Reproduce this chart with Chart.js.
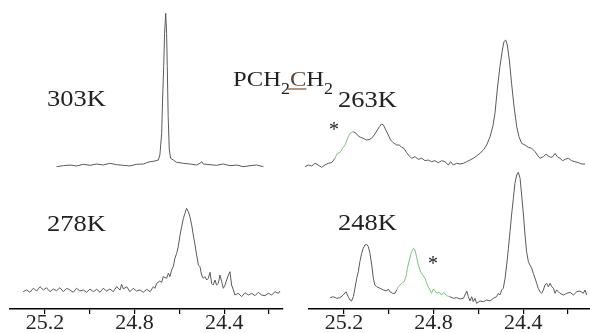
<!DOCTYPE html>
<html>
<head>
<meta charset="utf-8">
<script src="https://cdn.jsdelivr.net/npm/chart.js@4.4.0/dist/chart.umd.min.js"></script>
<style>
  html, body { margin: 0; padding: 0; background: #fff; }
  #wrap { position: relative; width: 590px; height: 333px; overflow: hidden; background: #fff; }
  #wrap canvas { position: absolute; left: 0; top: 0; }
</style>
</head>
<body>
<div id="wrap">
  <canvas id="c303" width="590" height="333"></canvas>
  <canvas id="c263" width="590" height="333"></canvas>
  <canvas id="c278" width="590" height="333"></canvas>
  <canvas id="c248" width="590" height="333"></canvas>
</div>
<script>
// eixo x (ppm), mesmo para todos
const tickValues = [25.2, 25.0, 24.8, 24.6, 24.4, 24.2];
const tickLabels = ['25.2', '', '24.8', '', '24.4', ''];

// rotulos de temperatura
const tempLabels = ['303K', '263K', '278K', '248K'];

// 303K
const ppm303 = [25.148,25.118,25.088,25.058,25.029,24.999,24.969,24.940,24.910,24.880,24.850,24.821,24.791,24.761,24.746,24.731,24.709,24.694,24.687,24.679,24.675,24.670,24.666,24.661,24.657,24.654,24.650,24.645,24.639,24.627,24.612,24.583,24.553,24.523,24.508,24.500,24.493,24.463,24.434,24.404,24.374,24.344,24.315,24.285,24.255,24.225];
const int303 = [3.3,4.3,5,4,5.7,4.7,6,5,6.7,5.3,4.7,4,5.7,6,7.3,8.3,9,10,15,36.7,70,103.3,136.7,156.7,136.7,103.3,53.3,20,11.7,10,7.7,6.7,6,5,6.7,8.3,6,5.3,4.7,6,4.3,5,3.3,4.3,5,3.3];

// 278K
const ppm278 = [25.297,25.282,25.267,25.252,25.237,25.222,25.207,25.193,25.178,25.163,25.148,25.133,25.118,25.103,25.088,25.074,25.059,25.044,25.029,25.014,24.999,24.984,24.969,24.954,24.940,24.925,24.910,24.895,24.880,24.865,24.858,24.850,24.835,24.821,24.806,24.791,24.776,24.761,24.746,24.731,24.716,24.709,24.701,24.687,24.679,24.672,24.657,24.649,24.642,24.635,24.627,24.620,24.612,24.605,24.597,24.590,24.582,24.575,24.568,24.560,24.553,24.545,24.538,24.530,24.523,24.515,24.508,24.501,24.493,24.486,24.478,24.471,24.463,24.456,24.449,24.441,24.434,24.426,24.419,24.411,24.404,24.396,24.389,24.381,24.374,24.367,24.359,24.352,24.337,24.322,24.307,24.292,24.277,24.263,24.248,24.233,24.218,24.203,24.188,24.173,24.158,24.151];
const int278 = [17.3,19,16.7,20.7,18,22.3,19,21.3,17.3,20,18.3,21.3,17.3,20.7,19,16.7,20.7,18,19,16.7,20,17.3,19.7,16.7,20.7,18,20,17.3,22.3,19,24.7,20,22.3,17.3,20.7,18,19,16.7,19.7,17.3,22.3,20.7,25.7,28,26.7,32.3,30.7,35.7,32.3,39,42.3,50.7,55.7,62.3,74,82.3,90.7,95.7,100.7,97.3,92.3,84,74,64,54,44,42.3,34,30.7,32.3,29,30.7,36.7,25.7,24,29,24,25.7,34,27.3,20.7,24,29,34,37.3,24,19,14,15.7,12.3,16.3,14,15.7,13.3,16.7,14,13.3,15.7,14,17.3,15.7,18];

// 263K
const ppm263 = [25.374,25.359,25.344,25.329,25.315,25.300,25.285,25.270,25.255,25.240,25.230,25.218,25.206,25.195,25.181,25.170,25.158,25.146,25.136,25.126,25.114,25.099,25.084,25.072,25.062,25.051,25.042,25.032,25.024,25.013,25.002,24.992,24.980,24.965,24.953,24.943,24.932,24.920,24.908,24.898,24.883,24.868,24.853,24.838,24.824,24.809,24.794,24.779,24.764,24.749,24.734,24.724,24.712,24.697,24.682,24.667,24.652,24.637,24.623,24.608,24.593,24.578,24.563,24.548,24.536,24.526,24.516,24.504,24.493,24.486,24.478,24.471,24.462,24.452,24.441,24.429,24.419,24.407,24.392,24.377,24.362,24.347,24.337,24.325,24.310,24.298,24.288,24.277,24.268,24.258,24.248,24.236,24.224,24.213,24.199,24.184,24.169,24.154,24.139,24.124];
const int263 = [3.3,5,4,6.7,5,2.7,5,6.7,7.3,11.7,16.7,17.3,21.7,25,33.3,37.3,38.3,36.7,34,32.7,31.7,30,30.7,32.7,36,40,43.3,46,45,40,35,30,27.3,25,25,22.7,21.7,17.3,14,11.7,13.3,10.7,11.7,9.3,10,8.3,9.3,7.3,9.3,8.3,5,8.3,5,6.7,6,6.7,8.3,10,11.7,14,16.7,20,25,33.3,43.3,56.7,80,103.3,120,128.3,130,125,110,86.7,63.3,43.3,33.3,26.7,25,22.7,21.7,18.3,15,11.7,13.3,16,14,12.7,13.3,16.7,13.3,11.7,9.3,10.7,11.7,9.3,8.3,7.3,6,6];

// 248K
const ppm248 = [25.262,25.248,25.233,25.218,25.203,25.191,25.181,25.173,25.166,25.158,25.151,25.143,25.136,25.129,25.121,25.114,25.106,25.099,25.091,25.084,25.076,25.069,25.062,25.054,25.039,25.024,25.010,25.002,24.995,24.983,24.972,24.965,24.957,24.950,24.943,24.932,24.923,24.917,24.908,24.898,24.890,24.883,24.876,24.868,24.858,24.849,24.838,24.831,24.824,24.816,24.809,24.801,24.794,24.786,24.774,24.764,24.754,24.742,24.727,24.712,24.697,24.682,24.667,24.660,24.652,24.645,24.637,24.630,24.623,24.615,24.608,24.593,24.578,24.563,24.548,24.533,24.519,24.511,24.504,24.496,24.489,24.481,24.474,24.466,24.459,24.452,24.444,24.437,24.429,24.422,24.414,24.407,24.399,24.392,24.385,24.377,24.370,24.362,24.355,24.347,24.340,24.333,24.325,24.318,24.310,24.303,24.295,24.288,24.280,24.273,24.265,24.258,24.251,24.243,24.236,24.221,24.206,24.191,24.176,24.161,24.147,24.132,24.124,24.117];
const int248 = [11.3,12.3,10.7,11.3,14,17.3,12.3,9,8,12.3,20.7,30.7,37.3,47.3,55.7,60.7,64,64.7,62.3,55.7,44,30.7,24,22.3,20.7,19,18,20,17.3,15.7,15.7,19,22.3,24,25.7,27.3,32.3,40.7,49,57.3,60.7,59,52.3,44,37.3,34,30.7,25.7,22.3,19,15.7,20,18,15.7,16.7,14,16.7,13.3,12.3,10.7,11.3,10,10.7,14,18,12.3,8,12.3,7.3,10.7,5.7,8,7.3,9,8,10.7,12.3,15.7,14,19,20.7,30.7,44,60.7,77.3,94,110.7,125.7,134,136.7,130.7,114,94,74,57.3,47.3,44,40.7,35.7,30.7,25.7,20.7,17.3,15.7,19,24,25.7,22.3,25.7,22.3,20.7,15.7,19,17.3,15.7,14,15.7,16.7,14,17.3,18,15.7,19,14];

// trechos em verde (sinal marcado com *)
const green263 = [25.249, 25.164];
const green248 = [24.965, 24.742];

const serif = "'Liberation Serif', 'Times New Roman', serif";
const lineColor = '#5a5a5a';
const greenColor = '#7cc47c';

function pontos(xs, ys) {
    return xs.map((x, i) => ({ x: x, y: ys[i] }));
}

function corSegmento(faixa) {
    return ctx => {
        if (!faixa) return undefined;
        const a = ctx.p0.parsed.x;
        return (a <= faixa[0] && a >= faixa[1]) ? greenColor : undefined;
    };
}

// escreve os rotulos por cima do grafico (um pouco esticados na horizontal, como no original)
const textoPlugin = {
    id: 'texto',
    afterDraw(chart, args, opts) {
        const ctx = chart.ctx;
        ctx.save();
        ctx.fillStyle = '#222';
        ctx.textBaseline = 'middle';
        (opts.items || []).forEach(t => {
            ctx.save();
            ctx.font = (t.size || 23) + 'px ' + serif;
            ctx.textAlign = t.align || 'left';
            ctx.translate(t.x, t.y);
            ctx.scale(t.sx || 1, 1);
            ctx.fillText(t.text, 0, 0);
            ctx.restore();
        });
        if (opts.formula) {
            // PCH2CH2 com o C sublinhado
            const sx = 1.12;
            let x = 233, y = 80;
            const big = '22px ' + serif, small = '16px ' + serif;
            const part = (s, f, dy, color) => {
                ctx.save();
                ctx.font = f;
                ctx.fillStyle = color || '#222';
                ctx.textAlign = 'left';
                ctx.translate(x, y + dy);
                ctx.scale(sx, 1);
                ctx.fillText(s, 0, 0);
                const w = ctx.measureText(s).width * sx;
                ctx.restore();
                x += w;
                return w;
            };
            part('PCH', big, 0);
            part('2', small, 10);
            const cx = x;
            const cw = part('C', big, 0, '#5e4536');
            ctx.strokeStyle = '#8a5a3a';
            ctx.lineWidth = 1.3;
            ctx.beginPath();
            ctx.moveTo(cx - 3, y + 9);
            ctx.lineTo(cx + cw, y + 9);
            ctx.stroke();
            part('H', big, 0);
            part('2', small, 10);
        }
        ctx.restore();
    }
};

function criarGrafico(id, xs, ys, opts) {
    const eixoX = {
        type: 'linear',
        reverse: true,
        min: opts.xmin,
        max: opts.xmax,
        display: opts.eixo,
        afterBuildTicks: s => { s.ticks = tickValues.map(v => ({ value: v })); },
        border: { display: true, color: '#000', width: 1.5 },
        grid: { drawOnChartArea: false, drawTicks: true, tickLength: 5, color: '#000', lineWidth: 1.2 },
        ticks: {
            autoSkip: false,
            maxRotation: 0,
            padding: -4,
            color: '#222',
            font: { family: serif, size: 22 },
            callback: (v, i) => tickLabels[i]
        }
    };
    if (opts.eixo) {
        eixoX.afterFit = s => { s.height = 24; };
    }
    return new Chart(document.getElementById(id), {
        type: 'line',
        data: {
            datasets: [{
                data: pontos(xs, ys),
                borderColor: lineColor,
                borderWidth: 1,
                pointRadius: 0,
                tension: 0,
                clip: false,
                segment: { borderColor: corSegmento(opts.verde) }
            }]
        },
        options: {
            responsive: false,
            animation: false,
            events: [],
            layout: { padding: opts.padding },
            plugins: {
                legend: { display: false },
                tooltip: { enabled: false },
                texto: { items: opts.textos || [], formula: !!opts.formula }
            },
            scales: {
                x: eixoX,
                y: { display: false, min: 0, max: opts.ymax }
            }
        },
        plugins: [textoPlugin]
    });
}

document.addEventListener('DOMContentLoaded', function() {
    criarGrafico('c303', ppm303, int303, {
        xmin: 24.1375, xmax: 25.356, eixo: false, ymax: 170,
        padding: { left: 10, right: 307, top: 0, bottom: 163 },
        textos: [{ text: tempLabels[0], x: 47, y: 100, sx: 1.15 }],
        formula: true
    });
    criarGrafico('c263', ppm263, int263, {
        xmin: 24.102, xmax: 25.356, eixo: false, ymax: 170,
        padding: { left: 309, right: 0, top: 0, bottom: 163 },
        verde: green263,
        textos: [{ text: tempLabels[1], x: 338, y: 101, sx: 1.15 }, { text: '*', x: 334, y: 131, size: 20, align: 'center' }]
    });
    criarGrafico('c278', ppm278, int278, {
        xmin: 24.1375, xmax: 25.356, eixo: true, ymax: 139,
        padding: { left: 10, right: 307, top: 170, bottom: 0 },
        textos: [{ text: tempLabels[2], x: 47, y: 225, sx: 1.15 }]
    });
    criarGrafico('c248', ppm248, int248, {
        xmin: 24.102, xmax: 25.356, eixo: true, ymax: 139,
        padding: { left: 309, right: 0, top: 170, bottom: 0 },
        verde: green248,
        textos: [{ text: tempLabels[3], x: 338, y: 224, sx: 1.15 }, { text: '*', x: 433, y: 265, size: 20, align: 'center' }]
    });
});
</script>
</body>
</html>
